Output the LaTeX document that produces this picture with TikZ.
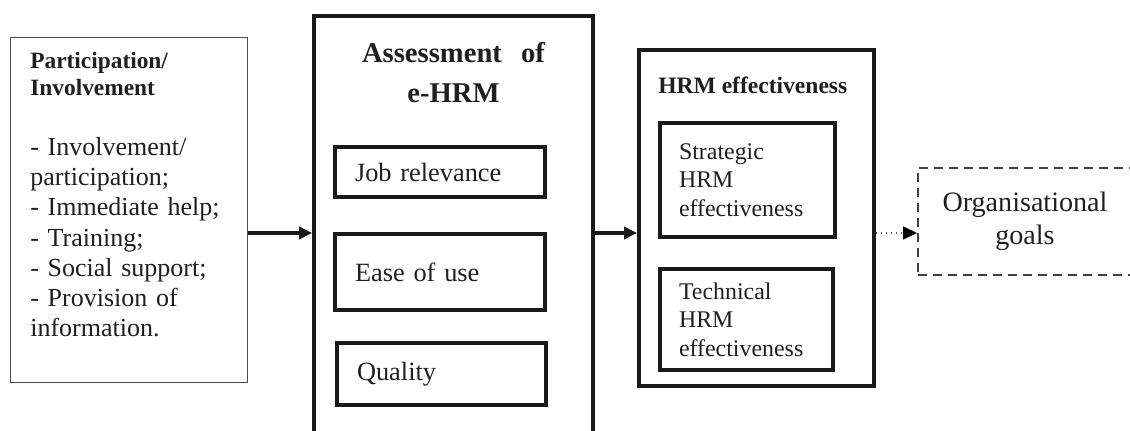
\documentclass[tikz,border=0pt]{standalone}
\usepackage{fontspec}
\setmainfont{Liberation Serif}
\usetikzlibrary{arrows.meta}
\tikzset{>={Triangle[length=0.26cm,width=0.24cm]}}
\tikzset{
  thinbox/.style={draw=black!70,line width=0.8pt,inner sep=0pt},
  heavybox/.style={draw=black!90,line width=2.2pt,inner sep=0pt},
  itembox/.style={heavybox,inner xsep=0.4cm,align=left,font=\fontsize{15}{17}\selectfont},
  txt/.style={inner sep=0pt,align=left},
  flow/.style={->,line width=2.2pt,draw=black!90}
}

\begin{document}
\begin{tikzpicture}[x=0.02cm,y=-0.02cm,text=black!88]
  \useasboundingbox (0,0) rectangle (1130,430);
  \coordinate (mid) at (0,233);

  % participation
  \node[thinbox,minimum width=4.74cm,minimum height=6.9cm] (part) at (129,210) {};
  \node[txt,anchor=north west,text width=4.2cm,font=\fontsize{13.3}{15.2}\selectfont\bfseries] (parttitle) at (30,52) {Participation/\\Involvement};
  \node[txt,anchor=north west,text width=4.3cm,font=\fontsize{14.8}{17.2}\selectfont] (partlist) at (30,137)
    {- Involvement/\\participation;\\- Immediate help;\\- Training;\\- Social support;\\- Provision of\\information.};

  % assessment of e-HRM
  \node[heavybox,minimum width=5.58cm,minimum height=8.48cm] (assess) at (453.5,228) {};
  \node[txt,anchor=north,align=center,text width=5cm,font=\fontsize{16.3}{22.7}\selectfont\bfseries] (assesstitle) at (453.5,42) {Assessment~~of\\e-HRM};
  \node[itembox,minimum width=4.2cm,minimum height=1.0cm,text width=3.4cm] (job) at (440,172) {Job relevance};
  \node[itembox,minimum width=4.2cm,minimum height=1.52cm,text width=3.4cm] (ease) at (440,272) {Ease of use};
  \node[itembox,minimum width=4.18cm,minimum height=1.24cm,text width=3.38cm] (quality) at (441.5,374) {Quality};

  % HRM effectiveness
  \node[heavybox,minimum width=4.7cm,minimum height=6.72cm] (hrm) at (756.5,218) {};
  \node[txt,anchor=base west,font=\fontsize{13.4}{15.8}\selectfont\bfseries] (hrmtitle) at (658,93) {HRM effectiveness};
  \node[itembox,inner xsep=0.38cm,font=\fontsize{13.6}{16.2}\selectfont,minimum width=3.5cm,minimum height=2.28cm,text width=2.74cm] (strat) at (747.5,180) {Strategic\\HRM\\effectiveness};
  \node[itembox,inner xsep=0.38cm,font=\fontsize{13.6}{16.2}\selectfont,minimum width=3.46cm,minimum height=2.02cm,text width=2.7cm] (tech) at (746.5,319.5) {Technical\\HRM\\effectiveness};

  % organisational goals
  \node[draw=black!75,line width=1.1pt,dash pattern=on 0.18cm off 0.12cm,minimum width=4.28cm,minimum height=2.14cm,
    align=center,text width=4cm,font=\fontsize{16}{19}\selectfont] (org) at (1025,221.5) {Organisational\\goals};

  \draw[flow] (part.east |- mid) -- (assess.west |- mid);
  \draw[flow] (assess.east |- mid) -- (hrm.west |- mid);
  \draw[-{Triangle[length=0.28cm,width=0.26cm,black]},black!70,line width=0.8pt,dotted] (hrm.east |- mid) -- (org.west |- mid);
\end{tikzpicture}
\end{document}
